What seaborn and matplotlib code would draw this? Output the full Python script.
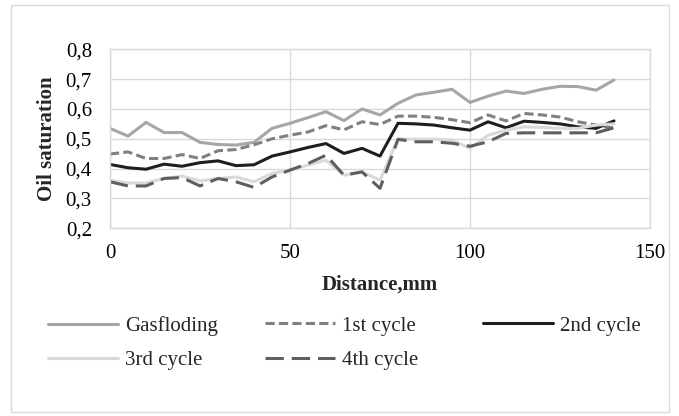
import pandas as pd
import matplotlib
matplotlib.use("Agg")
import matplotlib.pyplot as plt
import seaborn as sns
from matplotlib.patches import Rectangle

sns.set_theme(style="whitegrid")
plt.rcParams["font.family"] = ["Liberation Serif", "DejaVu Serif"]

# Data
distance = [0, 5, 10, 15, 20, 25, 30, 35, 40, 45, 50, 55, 60, 65, 70,
            75, 80, 85, 90, 95, 100, 105, 110, 115, 120, 125, 130, 135, 140]
gasfloding = [0.535, 0.509, 0.555, 0.521, 0.521, 0.488, 0.481, 0.479, 0.488, 0.535,
              0.552, 0.571, 0.591, 0.561, 0.600, 0.580, 0.619, 0.647, 0.656, 0.666,
              0.622, 0.643, 0.660, 0.652, 0.666, 0.676, 0.675, 0.663, 0.697]
cycle1 = [0.449, 0.456, 0.434, 0.434, 0.447, 0.434, 0.460, 0.464, 0.480, 0.500,
          0.512, 0.523, 0.544, 0.530, 0.557, 0.548, 0.576, 0.576, 0.572, 0.564,
          0.554, 0.580, 0.560, 0.585, 0.580, 0.573, 0.557, 0.546, 0.535]
cycle2 = [0.414, 0.403, 0.398, 0.415, 0.408, 0.420, 0.426, 0.410, 0.413, 0.442,
          0.456, 0.471, 0.484, 0.451, 0.468, 0.442, 0.552, 0.550, 0.546, 0.537,
          0.529, 0.557, 0.537, 0.559, 0.555, 0.550, 0.540, 0.535, 0.560]
cycle3 = [0.361, 0.352, 0.352, 0.367, 0.375, 0.359, 0.367, 0.372, 0.356, 0.384,
          0.395, 0.412, 0.428, 0.378, 0.389, 0.361, 0.500, 0.499, 0.499, 0.496,
          0.468, 0.512, 0.529, 0.540, 0.538, 0.535, 0.535, 0.546, 0.550]
cycle4 = [0.356, 0.342, 0.342, 0.367, 0.370, 0.342, 0.367, 0.356, 0.337, 0.372,
          0.395, 0.417, 0.445, 0.378, 0.389, 0.334, 0.498, 0.490, 0.490, 0.485,
          0.475, 0.490, 0.518, 0.520, 0.520, 0.520, 0.520, 0.520, 0.537]

series_names = ["Gasfloding", "1st cycle", "2nd cycle", "3rd cycle", "4th cycle"]
series_values = [gasfloding, cycle1, cycle2, cycle3, cycle4]

df = pd.concat(
    [pd.DataFrame({"distance": distance, "saturation": vals, "series": name})
     for name, vals in zip(series_names, series_values)],
    ignore_index=True,
)

palette = {
    "Gasfloding": "#a6a6a6",
    "1st cycle": "#808080",
    "2nd cycle": "#1e1e1e",
    "3rd cycle": "#d9d9d9",
    "4th cycle": "#5f5f5f",
}
dashes = {
    "Gasfloding": "",
    "1st cycle": (3, 1.4),
    "2nd cycle": "",
    "3rd cycle": "",
    "4th cycle": (6, 2.6),
}

W, H = 679, 416
fig = plt.figure(figsize=(W / 100, H / 100), dpi=100)
ax = fig.add_axes([110 / W, 1 - 228.3 / H, 540 / W, 179 / H])

sns.lineplot(
    data=df, x="distance", y="saturation", hue="series", style="series",
    palette=palette, dashes=dashes, hue_order=series_names, style_order=series_names,
    linewidth=2.2, ax=ax, legend=True,
)

ax.set_xlim(0, 150)
ax.set_ylim(0.2, 0.8)
ax.set_xticks([0, 50, 100, 150])
ax.set_yticks([0.2, 0.3, 0.4, 0.5, 0.6, 0.7, 0.8])
ax.set_yticklabels([f"{v:.1f}".replace(".", ",") for v in ax.get_yticks()])
ax.grid(True, color="#d9d9d9", linewidth=1.0)
for s in ax.spines.values():
    s.set_color("#d9d9d9")
    s.set_linewidth(1.0)
ax.tick_params(axis="both", labelsize=15, length=0, colors="black")
ax.tick_params(axis="y", pad=13)
ax.tick_params(axis="x", pad=11)
ax.set_xlabel("Distance,mm", fontsize=15, fontweight="bold", labelpad=9)
ax.set_ylabel("Oil saturation", fontsize=15, fontweight="bold", labelpad=6)

# legend below: three separate columns, placed like the reference
handles, labels = ax.get_legend_handles_labels()
hmap = dict(zip(labels, handles))
ax.get_legend().remove()
columns = [(48, ["Gasfloding", "3rd cycle"]),
           (265, ["1st cycle", "4th cycle"]),
           (483, ["2nd cycle"])]
for x0, names in columns:
    fig.legend([hmap[k] for k in names], names, frameon=False, fontsize=15,
               handlelength=3.35, handletextpad=0.33, labelspacing=0.72,
               borderpad=0, borderaxespad=0, loc="upper left",
               bbox_to_anchor=(x0 / W, 1 - 316 / H))

# outer chart border
fig.patches.append(Rectangle((11 / W, 4 / H), 658 / W, 407 / H, transform=fig.transFigure,
                             fill=False, edgecolor="#d9d9d9", linewidth=1.0))

fig.savefig("out.png", dpi=100)
